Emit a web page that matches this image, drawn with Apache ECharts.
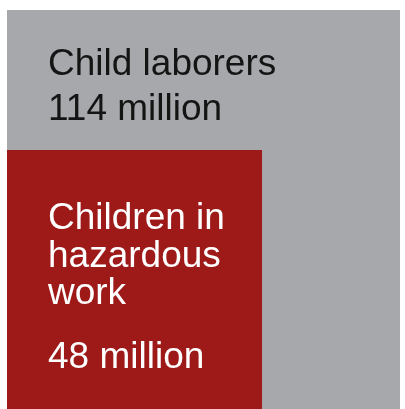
<!DOCTYPE html>
<html>
<head>
<meta charset="utf-8">
<script src="https://cdn.jsdelivr.net/npm/echarts@6/dist/echarts.min.js"></script>
<style>
html,body{margin:0;padding:0;background:#fff;}
#chart{width:405px;height:409px;}
</style>
</head>
<body>
<div id="chart"></div>
<script>
// Data
const categories = ['Child laborers', 'Children in hazardous work'];
const values = [114, 48]; // millions
const nameLines = [['Child laborers'], ['Children in', 'hazardous', 'work']];
const unitLabel = 'million';

const colors = ['#a6a8ab', '#9d1a19'];
const textColors = ['#141414', '#ffffff'];

const maxSide = Math.sqrt(Math.max.apply(null, values));

const chart = echarts.init(document.getElementById('chart'), null, {renderer: 'canvas'});

const FONT = 'Helvetica, "Liberation Sans", Arial, sans-serif';
const FS = 37;

function renderItem(params, api) {
  const i = params.dataIndex;
  const side = Math.sqrt(api.value(1));
  const p0 = api.coord([0, 0]);
  const p1 = api.coord([side, side]);
  const x = p0[0], y = p1[1], w = p1[0] - p0[0], h = p0[1] - p1[1];
  const children = [{
    type: 'rect',
    shape: {x: x, y: y, width: w, height: h},
    style: {fill: colors[i]}
  }];
  let centers;
  if (i === 0) {
    centers = [y + 55, y + 100];
  } else {
    const b = p0[1];
    centers = [b - 190, b - 152.5, b - 115, b - 51];
  }
  const lines = nameLines[i].concat([values[i] + ' ' + unitLabel]);
  lines.forEach(function (t, k) {
    children.push({
      type: 'text',
      x: x + 41,
      y: centers[k],
      style: {
        text: t,
        fill: textColors[i],
        font: FS + 'px ' + FONT,
        align: 'left',
        verticalAlign: 'middle'
      }
    });
  });
  return {type: 'group', children: children};
}

chart.setOption({
  animation: false,
  backgroundColor: '#ffffff',
  grid: {left: 7, right: 5, top: 10, bottom: 0},
  xAxis: {type: 'value', min: 0, max: maxSide, show: false},
  yAxis: {type: 'value', min: 0, max: maxSide, show: false},
  series: [{
    type: 'custom',
    renderItem: renderItem,
    clip: false,
    data: values.map(function (v, i) { return {name: categories[i], value: [0, v]}; })
  }]
});
</script>
</body>
</html>
